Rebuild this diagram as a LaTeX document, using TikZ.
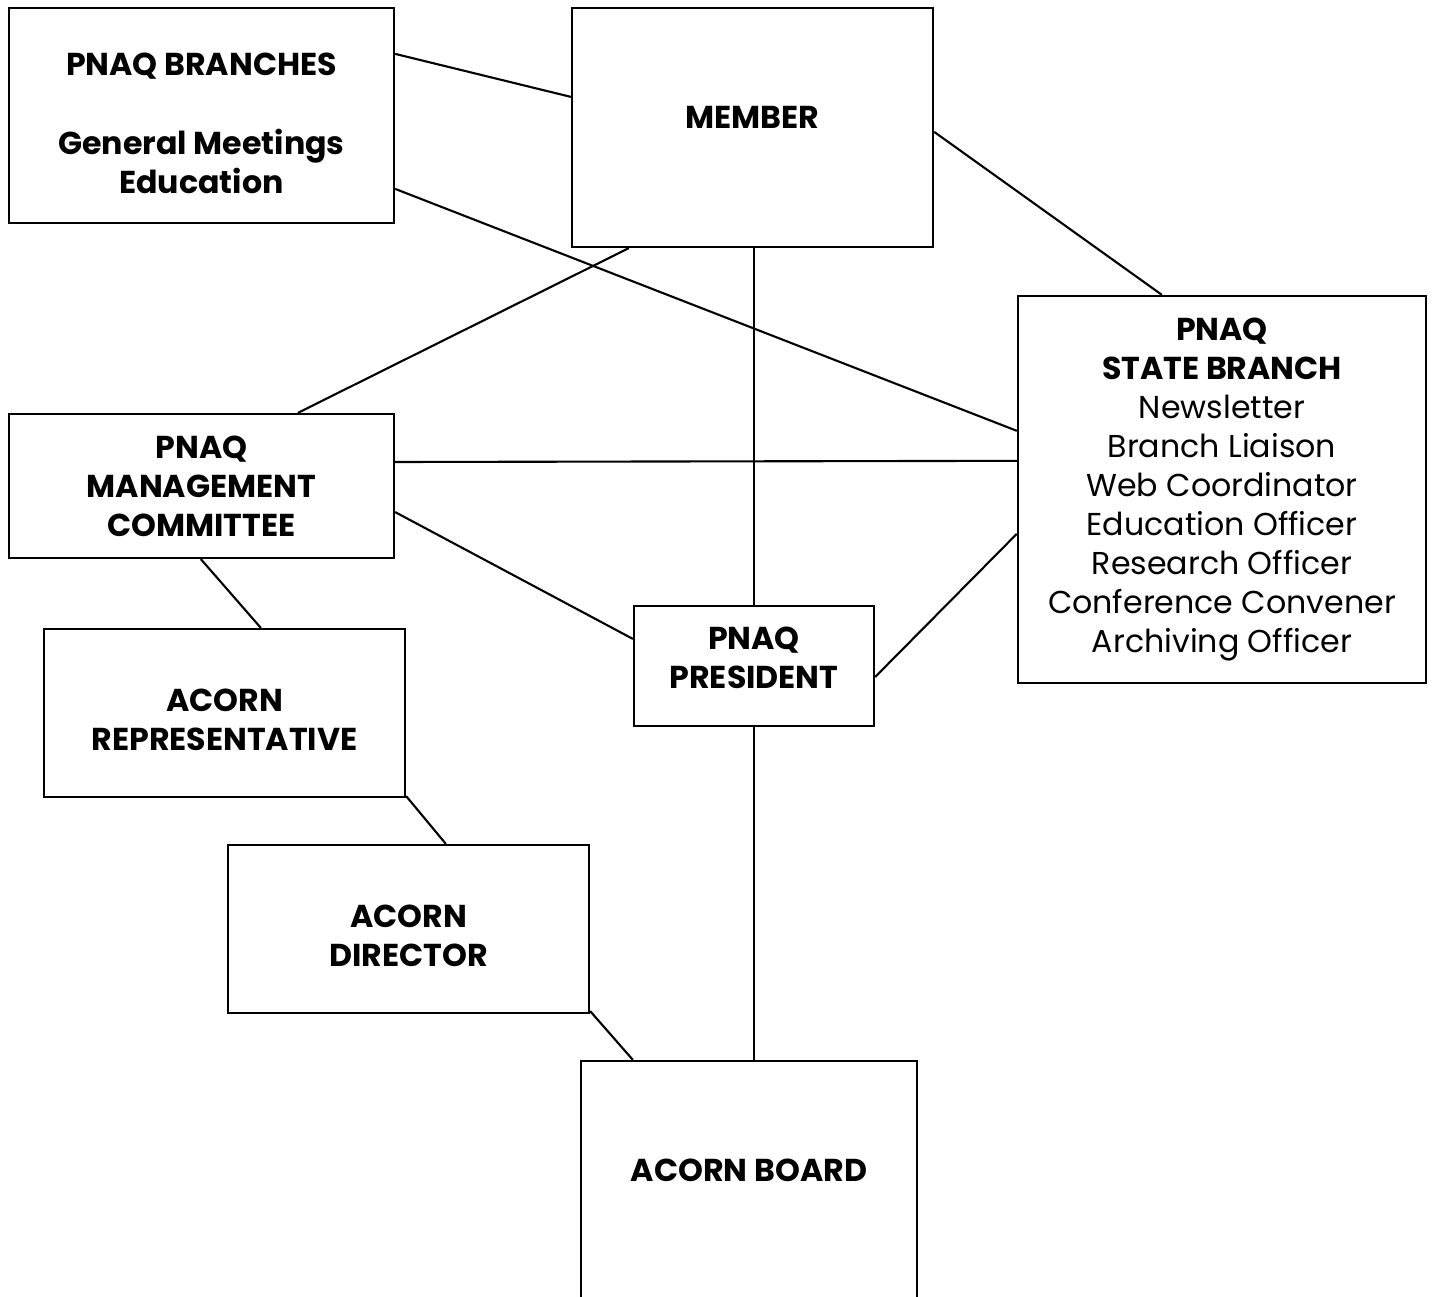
\documentclass[tikz,border=0pt]{standalone}
\usepackage{fontspec}
\setmainfont{Poppins}
\usetikzlibrary{calc}
\begin{document}
\begin{tikzpicture}[x=0.01cm,y=-0.01cm,line width=0.6pt,
    orgbox/.style={draw=black,inner sep=0pt,align=center,font=\fontsize{9}{11.1}\selectfont}]
    \useasboundingbox (0,0) rectangle (1432,1297);
    \node [orgbox,minimum width=3.85cm,minimum height=2.15cm] (branches) at (201.5,115.5) {\rule{0pt}{10.9pt}\textbf{PNAQ BRANCHES}\\[11.1pt]\textbf{General Meetings}\\\textbf{Education}};
    \node [orgbox,minimum width=3.61cm,minimum height=2.39cm,text depth=5.7pt] (member) at (752.5,127.5) {\textbf{MEMBER}};
    \node [orgbox,minimum width=4.08cm,minimum height=3.87cm] (state) at (1222,489.5) {\textbf{PNAQ}\\\textbf{STATE BRANCH}\\Newsletter\\Branch Liaison\\Web Coordinator\\Education Officer\\Research Officer\\Conference Convener\\Archiving Officer};
    \node [orgbox,minimum width=3.85cm,minimum height=1.44cm] (mgmt) at (201.5,486) {\textbf{PNAQ}\\\textbf{MANAGEMENT}\\\textbf{COMMITTEE}};
    \node [orgbox,minimum width=3.61cm,minimum height=1.68cm] (rep) at (224.5,713) {\rule{0pt}{10.3pt}\textbf{ACORN}\\\textbf{REPRESENTATIVE}};
    \node [orgbox,minimum width=2.4cm,minimum height=1.2cm,text depth=4.55pt] (pres) at (754,666) {\textbf{PNAQ}\\\textbf{PRESIDENT}};
    \node [orgbox,minimum width=3.61cm,minimum height=1.68cm] (dir) at (408.5,929) {\rule{0pt}{10.3pt}\textbf{ACORN}\\\textbf{DIRECTOR}};
    \node [orgbox,minimum width=3.36cm,minimum height=2.4cm,text depth=6.26pt] (board) at (749,1181) {\textbf{ACORN BOARD}};
    \draw [black] ($(branches.north east)+(0,47)$) -- ($(member.north west)+(0,90)$);
    \draw [black] ($(branches.north east)+(0,182)$) -- ($(state.north west)+(0,136)$);
    \draw [black] ($(member.north east)+(0,125)$) -- ($(state.north west)+(145,0)$);
    \draw [black] ($(member.south west)+(58,0)$) -- ($(mgmt.north west)+(290,0)$);
    \draw [black] (pres.north |- member.south) -- (pres.north);
    \draw [black] ($(mgmt.east)+(0,-24)$) -- ($(state.north west)+(0,166)$);
    \draw [black] ($(mgmt.south east)+(0,-47)$) -- ($(pres.north west)+(0,34)$);
    \draw [black] ($(pres.east)+(0,11)$) -- ($(state.north west)+(0,239)$);
    \draw [black] ($(mgmt.south west)+(193,0)$) -- ($(rep.north west)+(218,0)$);
    \draw [black] ($(rep.south east)+(0,-2)$) -- ($(dir.north west)+(219,0)$);
    \draw [black] ($(dir.south east)+(0,-3)$) -- ($(board.north west)+(53,0)$);
    \draw [black] (pres.south) -- (pres.south |- board.north);
\end{tikzpicture}
\end{document}
